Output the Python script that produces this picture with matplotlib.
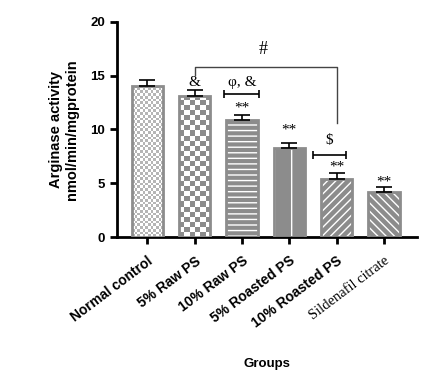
import numpy as np
import matplotlib.pyplot as plt
from matplotlib.colors import ListedColormap

groups = ['Normal control', '5% Raw PS', '10% Raw PS', '5% Roasted PS',
          '10% Roasted PS', 'Sildenafil citrate']
means = [14.05, 13.15, 10.9, 8.3, 5.4, 4.2]
errs = [0.55, 0.55, 0.45, 0.45, 0.55, 0.45]
hatches = [None, None, '---', '|', '////', '\\\\\\\\']

gray = '#8c8c8c'

fig = plt.figure(figsize=(4.24, 3.83), dpi=100)
ax = fig.add_axes([0.276, 0.381, 0.708, 0.562])

x = np.arange(len(groups))
# fill + hatch (white lines on gray)
for i in range(len(groups)):
    if hatches[i] is None:
        ax.bar(x[i], means[i], width=0.66, color='white', edgecolor='none', zorder=2)
    else:
        ax.bar(x[i], means[i], width=0.66, color=gray, edgecolor='white',
               hatch=hatches[i], linewidth=0, zorder=2)

# checkerboard patterns for the first two bars
outline = ax.bar(x, means, width=0.66, fill=False, edgecolor=gray, linewidth=2, zorder=4)
for i, (cols, rows, col) in enumerate([(12, 56, '#b5b5b5'), (6, 28, gray)]):
    b = outline[i]
    arr = np.indices((rows, cols)).sum(axis=0) % 2
    im = ax.imshow(arr, extent=[b.get_x(), b.get_x() + b.get_width(), 0, b.get_height()],
                   cmap=ListedColormap(['white', col]), aspect='auto',
                   interpolation='nearest', zorder=3)
    im.set_clip_path(b)

ax.errorbar(x, means, yerr=[[0] * len(x), errs], fmt='none', ecolor='black',
            elinewidth=1.2, capsize=6, capthick=1.2, zorder=5)

ax.set_xlim(-0.638, 5.70)
ax.set_ylim(0, 20)
ax.set_yticks([0, 5, 10, 15, 20])

for s in ['top', 'right']:
    ax.spines[s].set_visible(False)
for s in ['left', 'bottom']:
    ax.spines[s].set_linewidth(2)
ax.tick_params(width=2, length=5, direction='out')
ax.tick_params(axis='x', pad=7)

ax.set_xticks(x)
ax.set_xticklabels(groups, rotation=37, ha='right', rotation_mode='anchor')
for i, t in enumerate(ax.get_xticklabels()):
    if i == 5:
        t.set_fontfamily('Liberation Serif')
        t.set_fontsize(10.5)
    else:
        t.set_fontfamily('Liberation Sans')
        t.set_fontweight('bold')
        t.set_fontsize(10)
for t in ax.get_yticklabels():
    t.set_fontfamily('Liberation Sans')
    t.set_fontweight('bold')
    t.set_fontsize(9.5)

ax.set_ylabel('Arginase activity\nnmol/min/mgprotein', fontfamily='Liberation Sans',
              fontweight='bold', fontsize=10.5, labelpad=8)
ax.set_xlabel('Groups', fontfamily='Liberation Sans', fontweight='bold', fontsize=9.5,
              labelpad=20)

# significance marks
tf = dict(fontfamily='Liberation Serif', fontsize=11, ha='center', va='center', zorder=6)
ax.plot([1, 1, 4, 4], [15.1, 15.8, 15.8, 10.6], color='#444444', lw=1)
ax.text(2.45, 17.4, '#', fontfamily='Liberation Serif', fontsize=13, ha='center', va='center')
ax.text(1, 14.4, '&', **tf)
ax.text(2, 14.4, 'φ, &', **tf)
ax.errorbar(2, 13.3, xerr=0.37, color='black', lw=1.2, capsize=3, capthick=1.2)
ax.text(3.85, 9.0, '$', **tf)
ax.errorbar(3.85, 7.6, xerr=0.34, color='black', lw=1.2, capsize=3, capthick=1.2)
for i, yy in [(2, 12.0), (3, 9.9), (4, 6.5), (5, 5.1)]:
    ax.text(x[i], yy, '**', **tf)

fig.savefig('out.png', dpi=100)
